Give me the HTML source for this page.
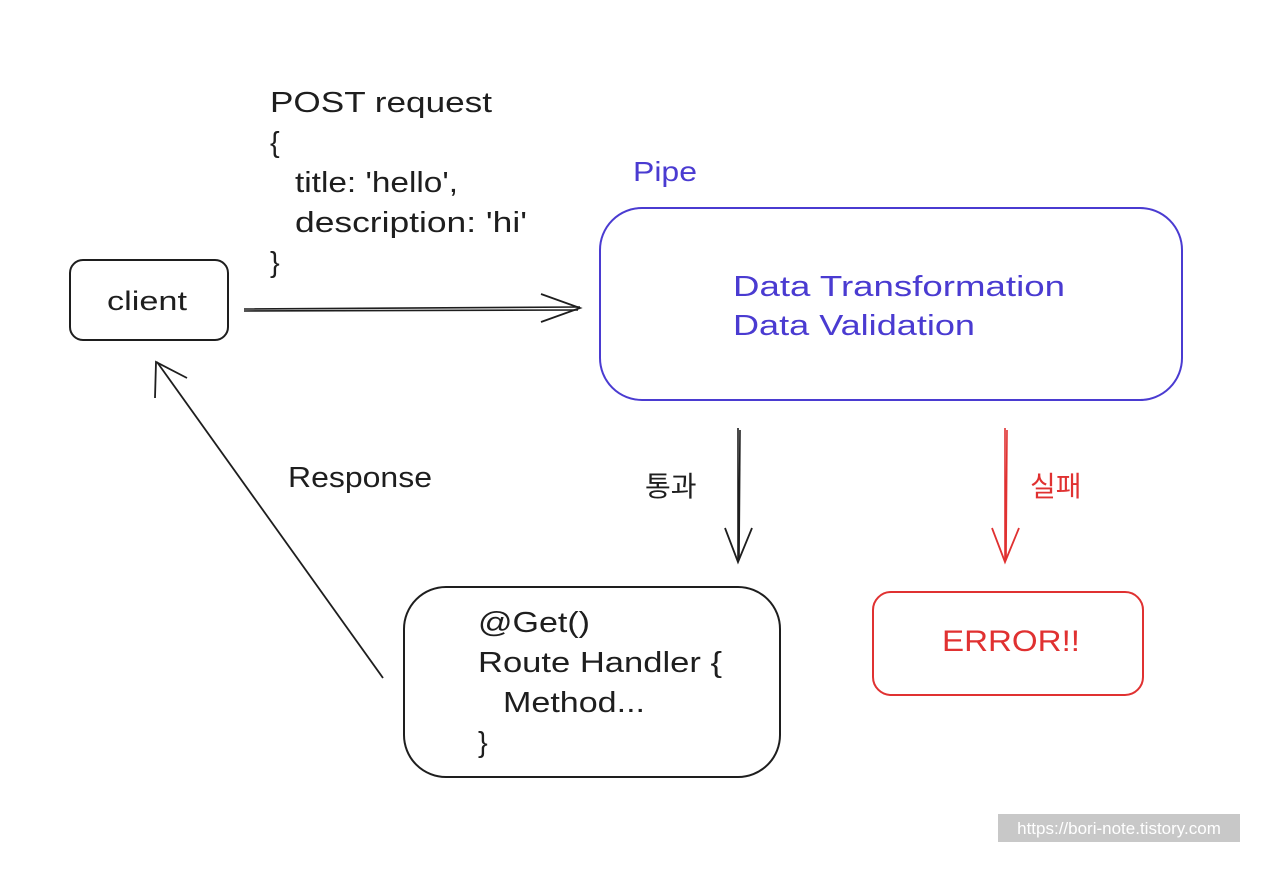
<!DOCTYPE html>
<html><head><meta charset="utf-8"><style>
html,body{margin:0;padding:0;background:#fff;}
svg{display:block;}
text{font-family:"Liberation Sans","Noto Sans CJK KR",sans-serif;}
</style></head><body>
<svg width="1280" height="884" viewBox="0 0 1280 884" xmlns="http://www.w3.org/2000/svg">
<rect width="1280" height="884" fill="#fff"/>
<rect x="70" y="260" width="158" height="80" rx="13" fill="none" stroke="#1e1e1e" stroke-width="2"/>
<text x="107" y="310" font-size="27" textLength="80" lengthAdjust="spacingAndGlyphs" fill="#1e1e1e">client</text>
<g font-size="29" fill="#1e1e1e">
<text x="270" y="112" textLength="222" lengthAdjust="spacingAndGlyphs">POST request</text>
<text x="270" y="152">{</text>
<text x="295" y="192" textLength="163" lengthAdjust="spacingAndGlyphs">title: 'hello',</text>
<text x="295" y="232" textLength="232" lengthAdjust="spacingAndGlyphs">description: 'hi'</text>
<text x="270" y="272">}</text>
</g>
<path d="M244 309 L580 307 M244 311 L578 310" stroke="#1e1e1e" stroke-width="1.6" fill="none"/>
<path d="M541 294 L580 308 L541 322" stroke="#1e1e1e" stroke-width="1.8" fill="none"/>
<text x="633" y="181" font-size="28" textLength="64" lengthAdjust="spacingAndGlyphs" fill="#4a3bd1">Pipe</text>
<rect x="600" y="208" width="582" height="192" rx="42" fill="none" stroke="#4a3bd1" stroke-width="2"/>
<text x="733" y="296" font-size="29" textLength="332" lengthAdjust="spacingAndGlyphs" fill="#4a3bd1">Data Transformation</text>
<text x="733" y="335" font-size="29" textLength="242" lengthAdjust="spacingAndGlyphs" fill="#4a3bd1">Data Validation</text>
<path d="M738 428 L738 562 M740 430 L739 560" stroke="#1e1e1e" stroke-width="1.6" fill="none"/>
<path d="M725 528 L738 562 L752 528" stroke="#1e1e1e" stroke-width="1.8" fill="none"/>
<text x="645" y="496" font-size="28" fill="#1e1e1e">통과</text>
<path d="M1005 428 L1005 562 M1007 430 L1006 560" stroke="#e03131" stroke-width="1.6" fill="none"/>
<path d="M992 528 L1005 562 L1019 528" stroke="#e03131" stroke-width="1.8" fill="none"/>
<text x="1030" y="496" font-size="28" fill="#e03131">실패</text>
<rect x="873" y="592" width="270" height="103" rx="18" fill="none" stroke="#e03131" stroke-width="2"/>
<text x="942" y="651" font-size="30" textLength="138" lengthAdjust="spacingAndGlyphs" fill="#e03131">ERROR!!</text>
<rect x="404" y="587" width="376" height="190" rx="42" fill="none" stroke="#1e1e1e" stroke-width="2"/>
<g font-size="29" fill="#1e1e1e">
<text x="478" y="632" textLength="112" lengthAdjust="spacingAndGlyphs">@Get()</text>
<text x="478" y="672" textLength="244" lengthAdjust="spacingAndGlyphs">Route Handler {</text>
<text x="503" y="712" textLength="142" lengthAdjust="spacingAndGlyphs">Method...</text>
<text x="478" y="752">}</text>
</g>
<path d="M383 678 L157 362" stroke="#1e1e1e" stroke-width="1.8" fill="none"/>
<path d="M155 398 L156 362 L187 378" stroke="#1e1e1e" stroke-width="1.8" fill="none"/>
<text x="288" y="487" font-size="29" textLength="144" lengthAdjust="spacingAndGlyphs" fill="#1e1e1e">Response</text>
<rect x="998" y="814" width="242" height="28" fill="#c8c8c8"/>
<text x="1119" y="834" font-size="17" text-anchor="middle" fill="#fff">https://bori-note.tistory.com</text>
</svg>
</body></html>
